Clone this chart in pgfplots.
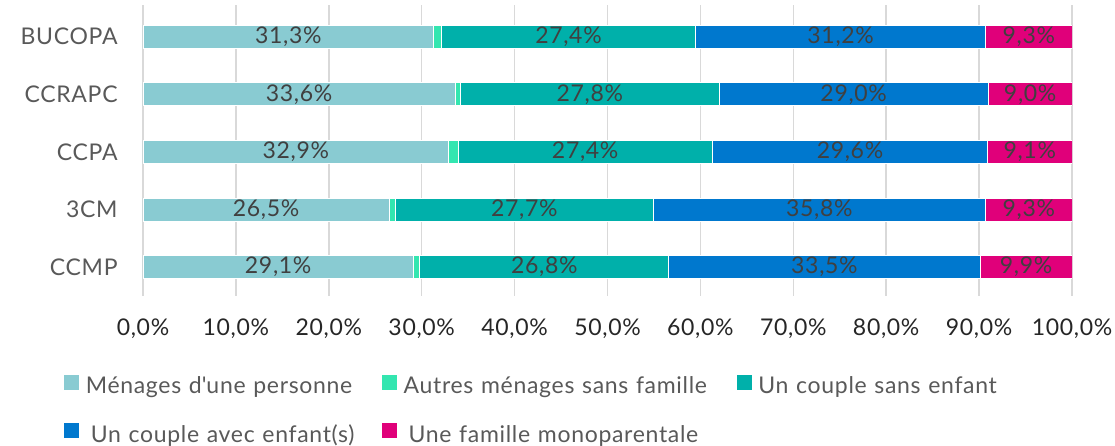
\documentclass[border=0pt]{standalone}
\usepackage{fontspec}
\setmainfont{Lato}[LetterSpace=3]
\usepackage{pgfplots}
\usepackage{pgfplotstable}
\pgfplotsset{compat=1.18}
\definecolor{c1}{RGB}{137,203,210}
\definecolor{c2}{RGB}{51,230,176}
\definecolor{c3}{RGB}{0,176,170}
\definecolor{c4}{RGB}{0,120,206}
\definecolor{c5}{RGB}{224,0,122}
\definecolor{gridgray}{RGB}{217,217,217}
\definecolor{labgray}{RGB}{89,89,89}
\definecolor{labdark}{RGB}{64,64,64}
\pgfplotstableread{
idx name a b c d e
0 BUCOPA 31.3 0.8 27.4 31.2 9.3
1 CCRAPC 33.6 0.6 27.8 29.0 9.0
2 CCPA 32.9 1.0 27.4 29.6 9.1
3 3CM 26.5 0.7 27.7 35.8 9.3
4 CCMP 29.1 0.7 26.8 33.5 9.9
}\data
\newcommand{\fs}{\fontsize{11.5}{13}\selectfont}
\pgfplotsset{
  seg/.style={fill=#1, draw=white, line width=0.4pt,
    legend image code/.code={\fill[#1] (0pt,-0.5pt) rectangle (7pt,6.5pt);}},
  lab/.style={nodes near coords={\pgfmathprintnumber[fixed,fixed zerofill,precision=1,use comma]{\pgfplotspointmeta}\%},
    point meta=explicit,
    every node near coord/.append style={anchor=center, font=\fs, text=labdark, inner sep=0pt}},
}
\begin{document}
\begin{tikzpicture}
\useasboundingbox (0,0) rectangle (557.5pt,222.5pt);
\begin{axis}[
  at={(71.5pt,74.5pt)}, anchor=south west,
  scale only axis, width=464.5pt, height=145.5pt,
  xbar stacked, bar width=11.5pt,
  xmin=0, xmax=100, ymin=-0.55, ymax=4.5, y dir=reverse,
  ytick={0,...,4}, yticklabels={BUCOPA,CCRAPC,CCPA,3CM,CCMP},
  xtick={0,10,...,100},
  /pgf/number format/assume math mode=true,
  xticklabel={\pgfmathprintnumber[fixed,fixed zerofill,precision=1,use comma]{\tick}\%},
  xmajorgrids, grid style={color=gridgray, line width=0.75pt},
  axis line style={draw=none}, major tick length=0pt,
  tick label style={font=\fs},
  xticklabel style={text=black!85, inner sep=0pt, anchor=north, yshift=-11pt},
  yticklabel style={text=labgray, inner sep=0pt, anchor=east, xshift=-12.5pt},
  legend cell align=left,
  legend style={at={(-0.085,-0.27)}, anchor=north west, draw=none, fill=none,
    inner sep=0pt, outer sep=0pt, legend columns=3, column sep=3.5pt, row sep=12pt,
    font=\fs, text=labgray,
    nodes={inner sep=0pt, text height=8.5pt, text depth=2.5pt},
    /tikz/column 2/.style={nodes={text width=144.5pt}},
    /tikz/column 4/.style={nodes={text width=163pt}},
    /tikz/column 6/.style={nodes={text width=120pt}}},
]
\addplot[seg=c1, lab=a] table[x=a, y=idx, meta=a]{\data};
\addlegendentry{Ménages d\textquotesingle une personne}
\addplot[seg=c2] table[x=b, y=idx]{\data};
\addlegendentry{Autres ménages sans famille}
\addplot[seg=c3, lab=c] table[x=c, y=idx, meta=c]{\data};
\addlegendentry{Un couple sans enfant}
\addplot[seg=c4, lab=d] table[x=d, y=idx, meta=d]{\data};
\addlegendentry{\hspace{2.5pt}Un couple avec enfant(s)}
\addplot[seg=c5, lab=e] table[x=e, y=idx, meta=e]{\data};
\addlegendentry{\hspace{2.5pt}Une famille monoparentale}
\end{axis}
\end{tikzpicture}
\end{document}
